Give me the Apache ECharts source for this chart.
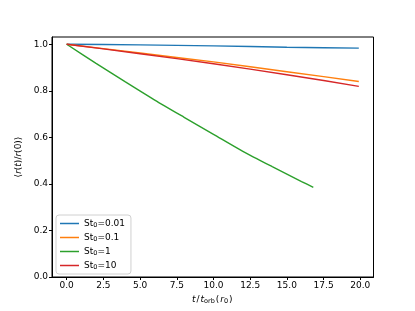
<!DOCTYPE html>
<html>
<head>
<meta charset="utf-8">
<script src="https://cdn.jsdelivr.net/npm/echarts@6/dist/echarts.min.js"></script>
<style>
  html, body { margin: 0; padding: 0; background: #fff; }
  #main { width: 415px; height: 311px; }
</style>
</head>
<body>
<div id="main"></div>
<script>
// data
var tLong = [0, 2.5, 5, 7.5, 10, 12.5, 15, 17.5, 19.9];
var st001 = [1.0, 0.999, 0.997, 0.995, 0.993, 0.990, 0.987, 0.985, 0.983];
var st01 = [1.0, 0.981, 0.962, 0.943, 0.924, 0.903, 0.882, 0.861, 0.840];
var st10 = [1.0, 0.980, 0.959, 0.938, 0.916, 0.893, 0.869, 0.844, 0.819];
var tShort = [0, 2, 4, 6, 8, 10, 12, 14, 16, 16.8];
var st1 = [1.0, 0.918, 0.838, 0.760, 0.686, 0.613, 0.540, 0.474, 0.410, 0.385];
var xTicks = [0, 2.5, 5, 7.5, 10, 12.5, 15, 17.5, 20];
var yTicks = [0, 0.2, 0.4, 0.6, 0.8, 1.0];
var names = ['0.01', '0.1', '1', '10'];
var colors = ['#1f77b4', '#ff7f0e', '#2ca02c', '#d62728'];

function pairs(xs, ys) {
  return xs.map(function (x, i) { return [x, ys[i]]; });
}

var chart = echarts.init(document.getElementById('main'));
var font = 'DejaVu Sans';
var seriesData = [pairs(tLong, st001), pairs(tLong, st01), pairs(tShort, st1), pairs(tLong, st10)];

chart.setOption({
  animation: false,
  textStyle: { fontFamily: font },
  grid: {
    left: 52, right: 41.5, top: 37, bottom: 34,
    show: true, borderColor: '#000', borderWidth: 1, backgroundColor: '#fff'
  },
  legend: {
    orient: 'vertical',
    left: 56, top: 215,
    padding: [3, 6, 3, 4],
    itemWidth: 19, itemHeight: 1.5, itemGap: 3,
    icon: 'rect',
    borderColor: '#d0d0d0', borderWidth: 1, borderRadius: 3,
    backgroundColor: 'rgba(255,255,255,0.8)',
    textStyle: {
      fontFamily: font, fontSize: 9, color: '#000', lineHeight: 11,
      rich: {
        a: { fontFamily: font, fontSize: 9, color: '#000' },
        s: { fontFamily: font, fontSize: 6.5, color: '#000', verticalAlign: 'bottom', padding: [4, 0, 0, 0] }
      }
    },
    formatter: function (n) {
      return '{a|St}{s|0}{a|=' + n.slice(4) + '}';
    },
    data: names.map(function (n) { return 'St0=' + n; })
  },
  xAxis: {
    type: 'value',
    min: -1, max: 20.9,
    name: '{i|t}{a|/}{i|t}{s|orb}{a|(}{i|r}{s|0}{a|)}',
    nameLocation: 'middle',
    nameGap: 14,
    nameTextStyle: {
      rich: {
        a: { fontFamily: font, fontSize: 9, color: '#000', padding: [0, 1, 0, 1] },
        i: { fontFamily: font, fontSize: 9, fontStyle: 'italic', color: '#000' },
        s: { fontFamily: font, fontSize: 6.5, color: '#000', verticalAlign: 'bottom', padding: [4, 0, 0, 0] }
      }
    },
    splitLine: { show: false },
    axisLine: { show: true, onZero: false, lineStyle: { color: '#000', width: 1 } },
    axisTick: { show: true, length: 3, lineStyle: { color: '#000', width: 1 }, customValues: xTicks },
    axisLabel: {
      fontSize: 9, color: '#000', margin: 4, fontFamily: font,
      customValues: xTicks,
      formatter: function (v) { return v.toFixed(1); }
    }
  },
  yAxis: {
    type: 'value',
    min: 0, max: 1.031,
    name: '{a|⟨}{i|r}{a|(}{i|t}{a|)/}{i|r}{a|(0)⟩}',
    nameLocation: 'middle',
    nameRotate: 90,
    nameGap: 29,
    nameTextStyle: {
      rich: {
        a: { fontFamily: font, fontSize: 9, color: '#000' },
        i: { fontFamily: font, fontSize: 9, fontStyle: 'italic', color: '#000' }
      }
    },
    splitLine: { show: false },
    axisLine: { show: true, onZero: false, lineStyle: { color: '#000', width: 1 } },
    axisTick: { show: true, length: 3, lineStyle: { color: '#000', width: 1 }, customValues: yTicks },
    axisLabel: {
      fontSize: 9, color: '#000', margin: 4, fontFamily: font,
      customValues: yTicks,
      formatter: function (v) { return v.toFixed(1); }
    }
  },
  series: names.map(function (n, i) {
    return {
      name: 'St0=' + n,
      type: 'line',
      data: seriesData[i],
      showSymbol: false,
      symbol: 'none',
      smooth: i === 2 ? 0.25 : false,
      color: colors[i],
      lineStyle: { width: 1.4, color: colors[i] }
    };
  })
});
</script>
</body>
</html>
